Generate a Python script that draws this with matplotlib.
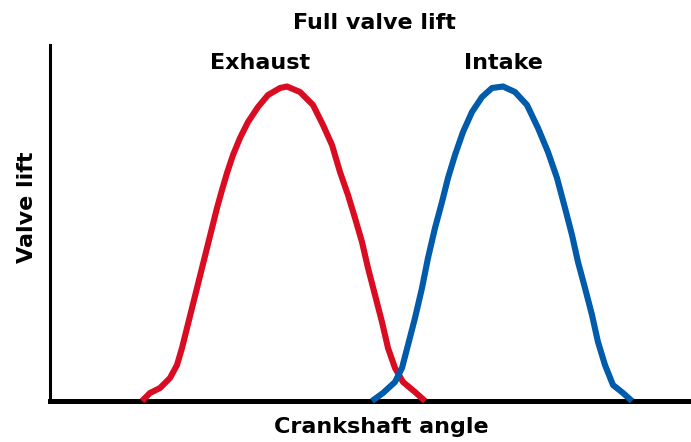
import matplotlib
matplotlib.use("Agg")
import matplotlib.pyplot as plt

# curve points (x: crank angle, y: lift, arbitrary units)
exhaust_x = [92, 100, 110, 120, 127, 132, 137, 142, 147, 152, 157, 162, 167,
             172, 177, 183, 190, 198, 208, 218, 230, 237, 250, 263, 273, 282,
             290, 298, 305, 312, 318, 325, 332, 338, 345, 353, 365, 375]
exhaust_y = [0, 8, 13, 23, 36, 53, 73, 93, 113, 133, 153, 173, 193,
             211, 228, 246, 263, 279, 294, 306, 313, 314.5, 309, 296, 276, 256,
             229, 206, 183, 159, 133, 106, 79, 53, 33, 19, 9, 0]

intake_x = [322, 333, 345, 352, 358, 365, 372, 378, 385, 392, 398, 405, 413,
            422, 432, 442, 453, 465, 477, 488, 498, 507, 515, 522, 528, 535,
            542, 548, 555, 563, 573, 582]
intake_y = [0, 8, 19, 33, 56, 83, 113, 143, 173, 199, 223, 246, 269,
            289, 304, 313, 314.5, 309, 296, 273, 249, 223, 193, 166, 139, 113,
            86, 59, 36, 16, 8, 0]

RED = "#D90C22"
BLUE = "#005BAA"

W, H = 691, 442
fig = plt.figure(figsize=(W / 100, H / 100), dpi=100)
ax = fig.add_axes([50 / W, (H - 401) / H, 641 / W, 356 / H])

ax.plot(exhaust_x, exhaust_y, color=RED, lw=4.4, solid_capstyle="butt",
        solid_joinstyle="round", clip_on=False, zorder=3)
ax.plot(intake_x, intake_y, color=BLUE, lw=4.4, solid_capstyle="butt",
        solid_joinstyle="round", clip_on=False, zorder=3)

ax.set_xlim(0, 641)
ax.set_ylim(0, 356)
ax.set_xticks([])
ax.set_yticks([])
for s in ["top", "right"]:
    ax.spines[s].set_visible(False)
ax.spines["left"].set_linewidth(2.2)
ax.spines["bottom"].set_linewidth(3.6)
ax.spines["bottom"].set_zorder(2)

def txt(x, y, s, **kw):
    fig.text(x / W, 1 - y / H, s, ha="center", va="center",
             fontweight="bold", family="DejaVu Sans", **kw)

txt(374, 23, "Full valve lift", fontsize=16)
txt(260, 63, "Exhaust", fontsize=16)
txt(503, 63, "Intake", fontsize=16)
txt(381, 427, "Crankshaft angle", fontsize=16)
txt(27, 207, "Valve lift", fontsize=16, rotation=90)

fig.savefig("out.png", dpi=100)
